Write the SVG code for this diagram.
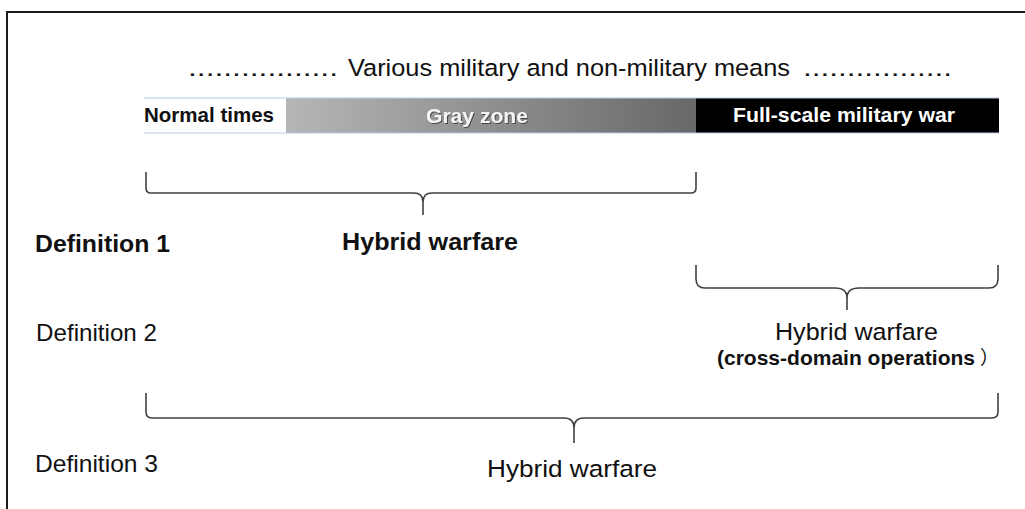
<svg xmlns="http://www.w3.org/2000/svg" width="1025" height="509" viewBox="0 0 1025 509">
  <defs>
    <linearGradient id="grayGrad" x1="0" y1="0" x2="1" y2="0">
      <stop offset="0" stop-color="#b6b6b6"/>
      <stop offset="1" stop-color="#686868"/>
    </linearGradient>
    <filter id="shadow" x="-10%" y="-30%" width="120%" height="160%">
      <feDropShadow dx="1" dy="1" stdDeviation="0.6" flood-color="#333" flood-opacity="0.8"/>
    </filter>
  </defs>
  <style>
    text { font-family: "Liberation Sans", Arial, sans-serif; fill: #111; }
    .b { font-weight: bold; }
    .bar { font-size: 20.5px; font-weight: bold; }
    .lbl { font-size: 24.5px; }
    .brace { fill: none; stroke: #404040; stroke-width: 1.6; stroke-linejoin: round; }
  </style>

  <rect x="0" y="0" width="1025" height="509" fill="#fff"/>
  <!-- frame -->
  <path d="M7,509 L7,12 L1025,12" fill="none" stroke="#1a1a1a" stroke-width="2"/>

  <!-- header line -->
  <g id="header">
    <text class="lbl" x="188" y="76" textLength="150" lengthAdjust="spacingAndGlyphs">.................</text>
    <text class="lbl" x="348" y="76" textLength="442" lengthAdjust="spacingAndGlyphs">Various military  and non-military means</text>
    <text class="lbl" x="803" y="76" textLength="149" lengthAdjust="spacingAndGlyphs">.................</text>
  </g>

  <!-- timeline bar -->
  <g id="bar-normal">
    <rect x="144" y="98" width="142" height="35" fill="#fff"/>
    <text class="bar" x="144" y="122" textLength="130" lengthAdjust="spacingAndGlyphs">Normal times</text>
  </g>
  <g id="bar-gray">
    <rect x="286" y="98" width="410" height="35" fill="url(#grayGrad)"/>
    <text class="bar" x="426" y="123" textLength="102" lengthAdjust="spacingAndGlyphs" style="fill:#f4f4f4" filter="url(#shadow)">Gray zone</text>
  </g>
  <g id="bar-war">
    <rect x="696" y="98" width="303" height="35" fill="#000"/>
    <text class="bar" x="733" y="122" textLength="222" lengthAdjust="spacingAndGlyphs" style="fill:#fff">Full-scale military war</text>
  </g>
  <g id="bar-edges">
    <line x1="144" y1="98" x2="999" y2="98" stroke="#b7c9e2" stroke-width="1.2"/>
    <line x1="144" y1="133" x2="999" y2="133" stroke="#b7c9e2" stroke-width="1.2"/>
  </g>

  <!-- braces -->
  <g id="connectors">
    <path class="brace" d="M146,172 L146,188 Q146,193 151,193 L414,193 Q423,193 423,202 L423,215 M423,202 Q423,193 432,193 L691,193 Q696,193 696,188 L696,172"/>
    <path class="brace" d="M696,265 L696,279 Q696,288 705,288 L835,288 Q847,288 847,298 L847,310 M847,298 Q847,288 859,288 L989,288 Q998,288 998,279 L998,265"/>
    <path class="brace" d="M146,393 L146,412 Q146,418 152,418 L564,418 Q574,418 574,428 L574,443 M574,428 Q574,418 584,418 L992,418 Q998,418 998,412 L998,393"/>
  </g>

  <!-- definition 1 -->
  <g id="def1">
    <text class="lbl b" x="35" y="252" textLength="135" lengthAdjust="spacingAndGlyphs">Definition 1</text>
    <text class="lbl b" x="342" y="250" textLength="176" lengthAdjust="spacingAndGlyphs">Hybrid warfare</text>
  </g>

  <!-- definition 2 -->
  <g id="def2">
    <text class="lbl" x="36" y="341" textLength="121" lengthAdjust="spacingAndGlyphs">Definition 2</text>
    <text class="lbl" x="775" y="340" textLength="163" lengthAdjust="spacingAndGlyphs">Hybrid warfare</text>
    <text x="717" y="365" style="font-size:21px"><tspan class="b" textLength="258" lengthAdjust="spacingAndGlyphs">(cross-domain operations</tspan><tspan dx="5" style="font-family:'Noto Sans CJK JP',sans-serif;font-size:19px">）</tspan></text>
  </g>

  <!-- definition 3 -->
  <g id="def3">
    <text class="lbl" x="35" y="472" textLength="123" lengthAdjust="spacingAndGlyphs">Definition 3</text>
    <text class="lbl" x="487" y="477" textLength="170" lengthAdjust="spacingAndGlyphs">Hybrid warfare</text>
  </g>
</svg>
